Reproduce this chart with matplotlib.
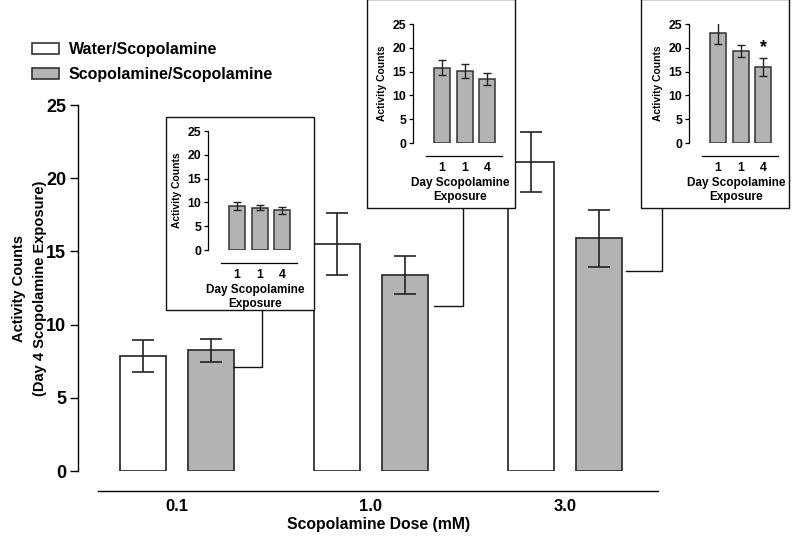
import matplotlib
matplotlib.use("Agg")
import matplotlib.pyplot as plt
from matplotlib.patches import Patch, Rectangle
from matplotlib.lines import Line2D

plt.rcParams['font.family'] = ['Liberation Sans', 'DejaVu Sans']
plt.rcParams['font.weight'] = 'bold'

# ---- data ----
doses = ["0.1", "1.0", "3.0"]
water_mean = [7.85, 15.5, 21.1]
water_err = [1.1, 2.1, 2.05]
scop_mean = [8.25, 13.4, 15.9]
scop_err = [0.8, 1.3, 1.95]
series_names = ["Water/Scopolamine", "Scopolamine/Scopolamine"]

inset_days = ["1", "1", "4"]
inset1_mean = [9.2, 8.9, 8.3]
inset1_err = [0.9, 0.6, 0.8]
inset2_mean = [15.8, 15.1, 13.4]
inset2_err = [1.6, 1.5, 1.3]
inset3_mean = [23.1, 19.3, 15.9]
inset3_err = [2.3, 1.2, 1.9]

W, H = 800, 536
fig = plt.figure(figsize=(W / 100, H / 100), dpi=100)

def fx(x):
    return x / W

def fy(y):
    return 1 - y / H

GRAY = "#b3b3b3"
EDGE = "#333333"

# ---- main axes ----
px_left, px_right, px_top, px_zero = 78, 680, 105, 471
centers_px = [177, 370, 565]
spacing = 194.0
ax = fig.add_axes([fx(px_left), fy(px_zero), fx(px_right - px_left), (px_zero - px_top) / H])
xl = (px_left - centers_px[0]) / spacing
xr = 2 + (px_right - centers_px[2]) / spacing
ax.set_xlim(xl, xr)
ax.set_ylim(0, 25)
xs = list(range(len(doses)))
off = 34 / spacing
bw = 46 / spacing
ax.bar([x - off for x in xs], water_mean, width=bw, color="white", edgecolor=EDGE, linewidth=1.3,
       yerr=water_err, error_kw=dict(ecolor="#222222", elinewidth=1.2, capsize=8, capthick=1.2), zorder=2)
ax.bar([x + off for x in xs], scop_mean, width=bw, color=GRAY, edgecolor=EDGE, linewidth=1.3,
       yerr=scop_err, error_kw=dict(ecolor="#222222", elinewidth=1.2, capsize=8, capthick=1.2), zorder=2)
for s in ["top", "right"]:
    ax.spines[s].set_visible(False)
ax.spines["left"].set_linewidth(1.0)
ax.spines["bottom"].set_position(("outward", 20 * 72 / 100))
ax.spines["bottom"].set_bounds((98 - centers_px[0]) / spacing, 2 + (658 - centers_px[2]) / spacing)
ax.spines["bottom"].set_linewidth(1.0)
ax.set_xticks(xs)
ax.set_xticklabels(doses, fontsize=12, fontweight="bold")
ax.tick_params(axis="x", length=0, pad=6)
ax.set_yticks([0, 5, 10, 15, 20, 25])
ax.tick_params(axis="y", length=6, width=1.0, labelsize=13, pad=2.5)
for t in ax.get_yticklabels():
    t.set_fontweight("bold")
ax.set_xlabel("Scopolamine Dose (mM)", fontsize=11.3, fontweight="bold", labelpad=2)
ax.set_ylabel("Activity Counts\n(Day 4 Scopolamine Exposure)", fontsize=10.5, fontweight="bold",
              linespacing=1.6)
ax.yaxis.set_label_coords((47 - px_left) / (px_right - px_left), 0.5)

# ---- legend ----
handles = [Patch(facecolor="white", edgecolor=EDGE, linewidth=1.2),
           Patch(facecolor=GRAY, edgecolor=EDGE, linewidth=1.2)]
fig.legend(handles, series_names, loc="upper left", bbox_to_anchor=(fx(18), fy(28)),
           frameon=False, prop=dict(size=11.5, weight="bold"), handlelength=1.65, handleheight=0.7,
           labelspacing=0.62, handletextpad=0.63)

# ---- insets ----
def inset(box, spine_x, zero_y, means, errs, star=False):
    x0, y0, x1, y1 = box
    fig.patches.append(Rectangle((fx(x0), fy(y1)), fx(x1 - x0), (y1 - y0) / H, transform=fig.transFigure,
                                 facecolor="white", edgecolor="#111111", linewidth=1.0, zorder=5))
    iax = fig.add_axes([fx(spine_x), fy(zero_y), fx(95), 119 / H], zorder=6)
    iax.patch.set_alpha(0)
    sp = 22.5
    first = 29
    iax.set_xlim(-first / sp, (95 - first) / sp)
    iax.set_ylim(0, 25)
    ix = list(range(len(means)))
    iax.bar(ix, means, width=16 / sp, color=GRAY, edgecolor=EDGE, linewidth=1.1, yerr=errs,
            error_kw=dict(ecolor="#222222", elinewidth=1.0, capsize=3, capthick=1.0))
    for s in ["top", "right"]:
        iax.spines[s].set_visible(False)
    iax.spines["left"].set_linewidth(0.9)
    iax.spines["bottom"].set_position(("outward", 13 * 72 / 100))
    iax.spines["bottom"].set_bounds((13 - first) / sp, (89 - first) / sp)
    iax.spines["bottom"].set_linewidth(0.9)
    iax.set_xticks(ix)
    iax.set_xticklabels(inset_days, fontsize=8.8, fontweight="bold")
    iax.tick_params(axis="x", length=0, pad=4.5)
    iax.set_yticks([0, 5, 10, 15, 20, 25])
    iax.tick_params(axis="y", length=3, width=0.9, labelsize=8.8, pad=2)
    for t in iax.get_yticklabels():
        t.set_fontweight("bold")
    iax.set_xlabel("Day Scopolamine\nExposure", fontsize=8.5, fontweight="bold", labelpad=2, linespacing=1.2)
    iax.set_ylabel("Activity Counts", fontsize=7.4, fontweight="bold", labelpad=4)
    if star:
        iax.text(2, means[2] + errs[2] + 0.4, "*", ha="center", va="bottom", fontsize=13, fontweight="bold")
    return iax

inset((166, 117, 314, 310), 208, 250, inset1_mean, inset1_err)
inset((367, -1, 515, 208), 413, 143, inset2_mean, inset2_err)
inset((641, -1, 789, 208), 689, 143, inset3_mean, inset3_err, star=True)

# ---- connectors (from inset box to the bar it expands) ----
def connector(xv, ytop, ybar, xbar):
    fig.add_artist(Line2D([fx(xv), fx(xv), fx(xbar)], [fy(ytop), fy(ybar), fy(ybar)],
                          transform=fig.transFigure, color="#111111", linewidth=1.0, zorder=4))

connector(262, 310, 367, 234)
connector(463, 208, 306, 434)
connector(662, 208, 271, 626)

fig.savefig("out.png", dpi=100)
